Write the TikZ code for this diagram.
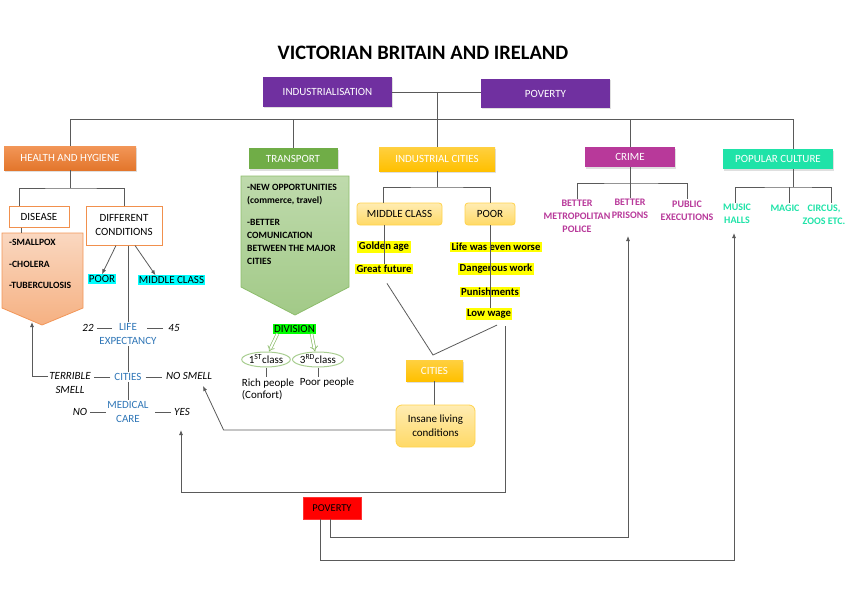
\documentclass[tikz,border=0pt]{standalone}
\usepackage{fontspec}
\setmainfont{Carlito}
\usepackage{tikz}
\usetikzlibrary{arrows.meta,shapes,shadows}
\definecolor{vpurple}{HTML}{7030A0}
\definecolor{vorange}{HTML}{EF7C2E}
\definecolor{vgreen}{HTML}{70AD47}
\definecolor{vgold}{HTML}{FFC000}
\definecolor{vmagenta}{HTML}{B8399A}
\definecolor{vteal}{HTML}{1FE3A8}
\definecolor{vblue}{HTML}{2E75B6}
\definecolor{vline}{HTML}{5A5A5A}
\definecolor{vcyan}{HTML}{00FFFF}
\definecolor{vlime}{HTML}{00FF00}
\definecolor{vyellow}{HTML}{FFFF00}
\tikzstyle{box}=[rectangle,inner sep=1pt,font=\fontsize{11}{13}\selectfont,drop shadow={opacity=.25,shadow xshift=1pt,shadow yshift=-1.5pt}]
\tikzstyle{purple box}=[box,fill=vpurple,text=white]
\tikzstyle{orange box}=[box,top color=vorange!80!white,bottom color=vorange!95!black,text=white]
\tikzstyle{green box}=[box,fill=vgreen,text=white]
\tikzstyle{gold box}=[box,top color=vgold!75!white,bottom color=vgold,text=white]
\tikzstyle{magenta box}=[box,fill=vmagenta,text=white]
\tikzstyle{teal box}=[box,fill=vteal,text=white]
\tikzstyle{red box}=[rectangle,fill=red,draw=red!80!white,inner sep=1pt,font=\fontsize{10.5}{12}\selectfont]
\tikzstyle{white box}=[rectangle,fill=white,draw=vorange!85!white,line width=1pt,inner sep=1pt,font=\fontsize{11}{14}\selectfont]
\tikzstyle{light box}=[rectangle,rounded corners=3pt,top color=vgold!30!white,bottom color=vgold!60!white,draw=vgold!70!white,line width=.8pt,inner sep=1pt,font=\fontsize{11}{14}\selectfont]
\tikzstyle{cyan tag}=[fill=vcyan,inner sep=1pt,font=\fontsize{11}{13}\selectfont]
\tikzstyle{yellow tag}=[fill=vyellow,inner sep=1.5pt,font=\fontsize{10.7}{12}\selectfont\bfseries]
\tikzstyle{lime tag}=[fill=vlime,inner sep=1pt,font=\fontsize{11}{13}\selectfont]
\tikzstyle{list text}=[inner sep=0pt,align=left,font=\fontsize{9.6}{13}\selectfont\bfseries]
\tikzstyle{blue text}=[inner sep=1pt,align=center,text=vblue,font=\fontsize{11}{14}\selectfont]
\tikzstyle{italic text}=[inner sep=1pt,align=center,font=\fontsize{11}{14}\selectfont\itshape]
\tikzstyle{small text}=[inner sep=1pt,font=\fontsize{11}{12}\selectfont]
\tikzstyle{magenta text}=[inner sep=1pt,align=center,text=vmagenta,font=\fontsize{10}{13}\selectfont\bfseries]
\tikzstyle{teal text}=[inner sep=1pt,align=center,text=vteal,font=\fontsize{10}{13}\selectfont\bfseries]
\tikzstyle{class ellipse}=[ellipse,draw=vgreen!60!white,line width=1pt,fill=white,inner sep=0pt,minimum width=40,minimum height=15,font=\fontsize{11}{12}\selectfont]
\tikzstyle{disease panel}=[top color=vorange!30!white,bottom color=vorange!60!white,draw=vorange!80!white,line width=.8pt]
\tikzstyle{transport panel}=[top color=vgreen!45!white,bottom color=vgreen!65!white,draw=vgreen!80!white,line width=.8pt]
\tikzstyle{edge}=[draw,vline,line width=.8pt,-]
\tikzstyle{arrow edge}=[edge,-{Latex[length=5pt,width=4pt]}]
\tikzstyle{hollow arrow}=[draw=vgreen!80!white,double=white,double distance=2pt,line width=.7pt,-{Implies}]

\begin{document}
\begin{tikzpicture}[x=1pt,y=-1pt]
        \useasboundingbox (0,0) rectangle (848,599);
        \node[font=\fontsize{20.5}{24}\selectfont\bfseries] (title) at (423,53) {VICTORIAN BRITAIN AND IRELAND};
        % top row
        \node[purple box,minimum width=129,minimum height=30] (indus) at (327.5,92) {INDUSTRIALISATION};
        \node[purple box,minimum width=129,minimum height=29] (povtop) at (545.5,93.5) {POVERTY};
        \coordinate (hub) at (437,92);
        \coordinate (bus) at (437,119);
        \draw[edge] (indus.east) to (indus.east -| povtop.west);
        \draw[edge] (hub) to (bus);
        % main branches
        \node[orange box,minimum width=132,minimum height=24] (health) at (70,158) {HEALTH AND HYGIENE};
        \node[green box,minimum width=89,minimum height=21] (transport) at (293,158.5) {TRANSPORT};
        \node[gold box,minimum width=116,minimum height=24] (indcities) at (437,159) {INDUSTRIAL CITIES};
        \node[magenta box,minimum width=90,minimum height=20] (crime) at (630,157) {CRIME};
        \node[teal box,minimum width=110,minimum height=20] (popcult) at (778,159) {POPULAR CULTURE};
        \draw[edge] (health.north) -- (health.north |- bus) -- ([xshift=15pt]popcult.north |- bus) -- ([xshift=15pt]popcult.north);
        \foreach \n in {transport,indcities,crime}
          \draw[edge] (\n.north) to (\n.north |- bus);

        % health and hygiene
        \node[white box,minimum width=60,minimum height=21] (disease) at (39,216.5) {DISEASE};
        \node[white box,minimum width=76,minimum height=39,align=center] (diffcond) at (124,225.5) {DIFFERENT\\CONDITIONS};
        \coordinate (hjoin) at (70,188);
        \draw[edge] (health.south) to (hjoin);
        \draw[edge] ([xshift=-20pt]disease.north) |- (hjoin) -| (diffcond.north);
        \coordinate (dlist) at (21,233);
        \draw[disease panel] (2,233) -- (83,233) -- (83,308) -- (42,325) -- (2,308) -- cycle;
        \draw[edge] (disease.south -| dlist) to (dlist);
        \node[list text,anchor=north west,font=\fontsize{9.6}{21.5}\selectfont\bfseries] (dtext) at (9,239.5) {-SMALLPOX\\-CHOLERA\\-TUBERCULOSIS};
        \node[cyan tag] (poorc) at (102,279) {POOR};
        \node[cyan tag] (midc) at (171.5,280) {MIDDLE CLASS};
        \draw[arrow edge] ([xshift=-8pt]diffcond.south) to (poorc.north);
        \draw[arrow edge] ([xshift=11pt]diffcond.south) to ([xshift=-16pt]midc.north);
        \node[blue text] (lifeexp) at (128,334) {LIFE\\EXPECTANCY};
        \node[italic text] (n22) at (88,328) {22};
        \node[italic text] (n45) at (174,328) {45};
        \draw[edge] (diffcond.south -| lifeexp.north) to (lifeexp.north);
        \draw[edge] ([xshift=2pt]n22.east) -- ++(15,0);
        \draw[edge] ([xshift=-4pt]n45.west) -- ++(-16,0);
        \node[blue text] (cities2) at (128,377) {CITIES};
        \node[italic text] (terrible) at (70,383) {TERRIBLE\\SMELL};
        \node[italic text] (nosmell) at (189,376) {NO SMELL};
        \draw[edge] (lifeexp.south) to (cities2.north);
        \draw[edge] ([xshift=-3pt]cities2.west) -- ++(-16,0);
        \draw[edge] ([xshift=3pt]cities2.east) -- ++(16,0);
        \node[blue text] (medcare) at (128,412) {MEDICAL\\CARE};
        \node[italic text] (no) at (80,412) {NO};
        \node[italic text] (yes) at (182,412) {YES};
        \draw[edge] (cities2.south) to (medcare.north);
        \draw[edge] ([xshift=2pt]no.east) -- ++(16,0);
        \draw[edge] ([xshift=-2pt]yes.west) -- ++(-16,0);

        % transport
        \draw[transport panel] (241,176) -- (349,176) -- (349,287) -- (295,315) -- (241,287) -- cycle;
        \node[list text,anchor=north west] (ttext) at (247,184.5) {-NEW OPPORTUNITIES\\(commerce, travel)\\[9pt]-BETTER\\COMUNICATION\\BETWEEN THE MAJOR\\CITIES};
        \node[lime tag] (division) at (294.5,329) {DIVISION};
        \node[class ellipse] (first) at (266,359.5) {1\textsuperscript{ST}class};
        \node[class ellipse] (third) at (318,359.5) {3\textsuperscript{RD}class};
        \draw[hollow arrow] ([xshift=-17pt]division.south) to ([xshift=3pt]first.north);
        \draw[hollow arrow] ([xshift=17pt]division.south) to ([xshift=-3pt]third.north);
        \node[small text,align=left] (rich) at (268,389) {Rich people\\(Confort)};
        \node[small text] (poorp) at (327,383) {Poor people};
        \draw[edge] (first.south) to (first.south |- rich.north);
        \draw[edge] (third.south) to (third.south |- poorp.north);

        % industrial cities
        \node[light box,minimum width=85,minimum height=22] (midcl) at (399.5,214) {MIDDLE CLASS};
        \node[light box,minimum width=50,minimum height=22] (poorb) at (490,214) {POOR};
        \coordinate (icjoin) at (437,187);
        \draw[edge] (indcities.south) to (icjoin);
        \draw[edge] ([xshift=-16pt]midcl.north) |- (icjoin) -| (poorb.north);
        \node[yellow tag] (golden) at (384,247) {Golden age};
        \node[yellow tag] (future) at (384,269) {Great future};
        \node[yellow tag] (worse) at (496,247) {Life was even worse};
        \node[yellow tag] (danger) at (496,269) {Dangerous work};
        \node[yellow tag] (punish) at (490,292) {Punishments};
        \node[yellow tag] (lowwage) at (489,314) {Low wage};
        \draw[edge] (midcl.south -| golden.north) to (golden.north |- future.north);
        \draw[edge] (poorb.south) to (poorb.south |- lowwage.north);
        \coordinate (vtip) at (433,355);
        \draw[edge] ([xshift=3pt,yshift=-9pt]future.south) -- (vtip) -- ([xshift=8pt,yshift=-5pt]lowwage.south);
        \node[gold box,minimum width=57,minimum height=21] (cities) at (434.5,370.5) {CITIES};
        \node[light box,rounded corners=6pt,minimum width=79,minimum height=42,align=center] (insane) at (435.5,426) {Insane living\\conditions};
        \draw[edge] (cities.south) to (cities.south |- insane.north);

        % crime
        \node[magenta text] (police) at (577,216) {BETTER\\METROPOLITAN\\POLICE};
        \node[magenta text] (prisons) at (630,208.5) {BETTER\\PRISONS};
        \node[magenta text] (execut) at (687,210.5) {PUBLIC\\EXECUTIONS};
        \coordinate (cbar) at (630,183);
        \draw[edge] (crime.south) to (cbar);
        \draw[edge] (police.north) |- (cbar) -| (execut.north);
        \draw[edge] (cbar) to (prisons.north);

        % popular culture
        \node[teal text] (music) at (737,214) {MUSIC\\HALLS};
        \node[teal text] (magic) at (785,208) {MAGIC};
        \node[teal text] (circus) at (824,214.5) {CIRCUS,\\ZOOS ETC.};
        \coordinate (pbar) at (793,187);
        \draw[edge] ([xshift=15pt]popcult.south) to (pbar);
        \draw[edge] ([xshift=-2pt]music.north) |- (pbar) -| ([xshift=7pt]circus.north);
        \draw[edge] ([xshift=4pt]magic.north |- pbar) to ([xshift=4pt]magic.north);

        % poverty and the long arrows
        \node[red box,minimum width=58,minimum height=22] (povbot) at (332,508) {POVERTY};
        \coordinate (dtip) at (32,322);
        \coordinate (nstip) at (203,386);
        \coordinate (yestip) at (181,430);
        \coordinate (prtip) at (628,236);
        \coordinate (mhtip) at (734,233);
        \draw[arrow edge] ([yshift=7pt]terrible.west) -| (dtip);
        \draw[arrow edge] ([yshift=-4pt]insane.west) -- ++(-172,0) -- (nstip);
        \draw[arrow edge] ([xshift=16pt,yshift=-6pt]lowwage.south) -- ++(0,166) -| (yestip);
        \draw[arrow edge] ([xshift=-2pt]povbot.south) -- ++(0,18) -| (prtip);
        \draw[arrow edge] ([xshift=-12pt]povbot.south) -- ++(0,41) -| (mhtip);
      \end{tikzpicture}
\end{document}
